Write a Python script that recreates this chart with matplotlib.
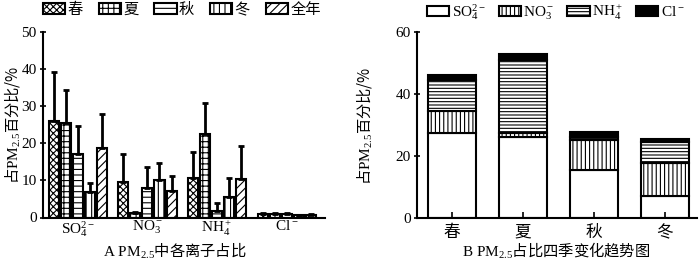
import matplotlib
matplotlib.use("Agg")
import matplotlib.pyplot as plt
import numpy as np

plt.rcParams['font.family'] = ['Liberation Serif', 'Noto Sans CJK SC']
plt.rcParams['mathtext.fontset'] = 'custom'
plt.rcParams['mathtext.rm'] = 'Liberation Serif'
plt.rcParams['mathtext.it'] = 'Liberation Serif'
plt.rcParams['mathtext.sf'] = 'Liberation Serif'
plt.rcParams['hatch.linewidth'] = 0.8
plt.rcParams['font.size'] = 11

# ---- data ----
ion_labels = ['SO$_4^{2-}$', 'NO$_3^-$', 'NH$_4^+$', 'Cl$^-$']
seasons = ['春', '夏', '秋', '冬']
series_a = ['春', '夏', '秋', '冬', '全年']

# panel A: share of each ion (SO4, NO3, NH4, Cl) in PM2.5, mean and upper sd
spring = [26.1, 9.5, 10.7, 1.0]
summer = [25.4, 1.3, 22.5, 1.0]
autumn = [17.0, 8.0, 1.8, 0.9]
winter = [7.0, 10.1, 5.4, 0.6]
annual = [18.8, 7.2, 10.3, 0.7]
spring_sd = [13.2, 7.5, 6.9, 0.3]
summer_sd = [9.1, 0.3, 8.4, 0.3]
autumn_sd = [7.7, 5.7, 2.2, 0.3]
winter_sd = [2.4, 4.7, 5.3, 0.2]
annual_sd = [9.0, 4.1, 9.0, 0.2]

# panel B: stacked share per season
so4_b = [27.4, 26.1, 15.6, 7.3]
no3_b = [7.2, 1.5, 9.7, 10.6]
nh4_b = [10.0, 23.5, 0.8, 6.8]
cl_b = [1.6, 1.9, 1.6, 0.9]

cjk = 'Noto Sans CJK SC'

fig = plt.figure(figsize=(7, 2.6), dpi=100)
ax1 = fig.add_axes([43/700, 1-217.5/260, 282/700, 185.5/260])
ax2 = fig.add_axes([417/700, 1-218.3/260, 280/700, 186/260])

# ---- panel A ----
vals = [spring, summer, autumn, winter, annual]
sds = [spring_sd, summer_sd, autumn_sd, winter_sd, annual_sd]
hatches = ['xxxxx', '+++', '---', '|||', '////']
x = np.arange(len(ion_labels))
step = 0.173
handles = []
for k in range(5):
    pos = x + (k - 2) * step
    b = ax1.bar(pos, vals[k], width=0.144, color='white', edgecolor='black',
                linewidth=1.5, hatch=hatches[k], label=series_a[k])
    ax1.errorbar(pos, vals[k], yerr=[np.zeros(4), sds[k]], fmt='none',
                 ecolor='black', elinewidth=2, capsize=2.5, capthick=2)
    handles.append(b)

ax1.set_xlim(-0.5, 3.55)
ax1.set_ylim(0, 50)
ax1.set_yticks([0, 10, 20, 30, 40, 50])
ax1.set_xticks(x)
ax1.set_xticklabels(ion_labels)
ax1.tick_params(axis='x', length=0, pad=1)
ax1.tick_params(axis='y', direction='inout', length=5, width=1.2, pad=2)
for s in ['top', 'right']:
    ax1.spines[s].set_visible(False)
for s in ['left', 'bottom']:
    ax1.spines[s].set_linewidth(1.5)
ax1.set_ylabel('占$\\mathrm{PM}_{2.5}$百分比/%', family=cjk)
ax1.yaxis.set_label_coords(-0.075, 0.5)
ax1.set_xlabel('$\\mathrm{A\\ PM}_{2.5}$中各离子占比', family=cjk)
ax1.xaxis.set_label_coords(0.468, -0.125)
ax1.legend(handles=handles, ncol=5, loc='center left', bbox_to_anchor=(0.0, 1.12),
           frameon=False, handlelength=1.45, handleheight=0.65, handletextpad=0.15,
           columnspacing=1.05, borderaxespad=0, borderpad=0)

# ---- panel B ----
xb = np.arange(len(seasons))
w = 0.68
bottom = np.zeros(4)
parts = [(so4_b, None, 'white'), (no3_b, '||||', 'white'),
         (nh4_b, '-----', 'white'), (cl_b, None, 'black')]
bh = []
for (v, h, c), lab in zip(parts, ion_labels):
    b = ax2.bar(xb, v, width=w, bottom=bottom, color=c, edgecolor='black',
                linewidth=1.5, hatch=h, label=lab)
    bottom = bottom + np.array(v)
    bh.append(b)

ax2.set_xlim(-0.49, 3.45)
ax2.set_ylim(0, 60)
ax2.set_yticks([0, 20, 40, 60])
ax2.set_xticks(xb)
ax2.set_xticklabels(seasons, family=cjk, fontsize=12)
ax2.tick_params(axis='x', direction='in', length=4, width=1.2, pad=4)
ax2.tick_params(axis='y', direction='inout', length=5, width=1.2, pad=2)
for s in ['top', 'right']:
    ax2.spines[s].set_visible(False)
for s in ['left', 'bottom']:
    ax2.spines[s].set_linewidth(1.5)
ax2.set_ylabel('占$\\mathrm{PM}_{2.5}$百分比/%', family=cjk)
ax2.yaxis.set_label_coords(-0.155, 0.5)
ax2.set_xlabel('$\\mathrm{B\\ PM}_{2.5}$占比四季变化趋势图', family=cjk)
ax2.xaxis.set_label_coords(0.496, -0.12)
ax2.legend(handles=bh, ncol=4, loc='center left', bbox_to_anchor=(0.036, 1.109),
           frameon=False, handlelength=1.45, handleheight=0.65, handletextpad=0.15,
           columnspacing=0.85, borderaxespad=0, borderpad=0)

fig.savefig('out.png', dpi=100)
